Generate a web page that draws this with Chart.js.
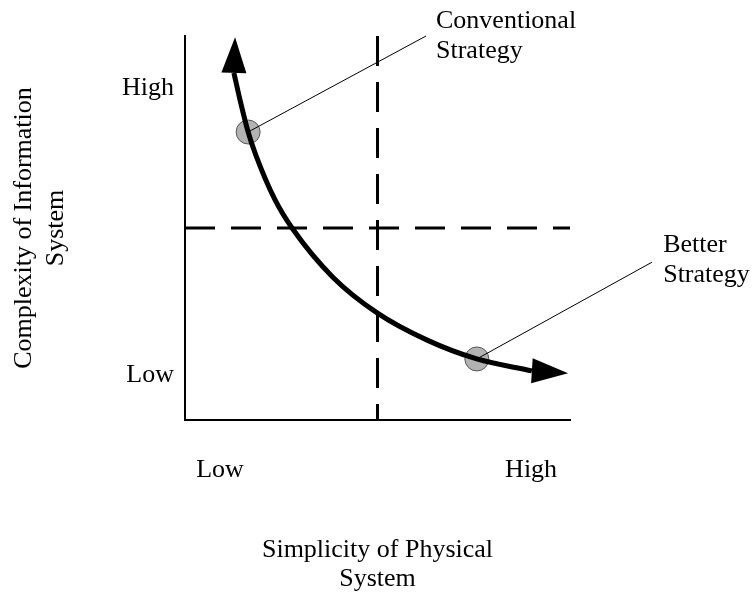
<!DOCTYPE html>
<html>
<head>
<meta charset="utf-8">
<script src="https://cdn.jsdelivr.net/npm/chart.js@4.4.1/dist/chart.umd.min.js"></script>
<style>
  body { margin: 0; background: #fff; }
  #wrap { width: 752px; height: 592px; }
</style>
</head>
<body>
<div id="wrap"><canvas id="chart" width="752" height="592"></canvas></div>
<script>
// strategy curve (0..10 on both axes)
const curveX = [1.27, 1.43, 1.64, 1.84, 2.34, 2.78, 3.84, 4.99, 6.29, 7.58, 9.01];
const curveY = [9.04, 8.33, 7.5, 6.9, 5.73, 5.0, 3.72, 2.79, 2.08, 1.59, 1.28];
const arrowTipX = [1.30, 9.95];
const arrowTipY = [9.97, 1.22];

// quadrant dividers
const splitX = 5;
const splitY = 5;

// marked strategies and their callouts
const strategyNames = [['Conventional', 'Strategy'], ['Better', 'Strategy']];
const strategyX = [1.64, 7.58];
const strategyY = [7.5, 1.59];
const calloutX = [6.26, 12.13];
const calloutY = [10.0, 4.11];
const labelX = [6.52, 12.42];
const labelY = [10.38, 4.55];

// tick labels
const xTickValues = [0.91, 8.99];
const xTickLabels = ['Low', 'High'];
const yTickValues = [1.17, 8.65];
const yTickLabels = ['Low', 'High'];

const FONT = "'Liberation Serif', 'Times New Roman', serif";
const SIZE = 26;

const curve = curveX.map((x, i) => ({ x: x, y: curveY[i] }));

const datasets = [
    {
        data: curve,
        showLine: true,
        borderColor: '#000',
        borderWidth: 5,
        borderCapStyle: 'butt',
        cubicInterpolationMode: 'monotone',
        pointRadius: 0,
        order: 0
    },
    {
        data: [{ x: splitX, y: 10 }, { x: splitX, y: 0 }],
        showLine: true,
        borderColor: '#000',
        borderWidth: 3,
        borderDash: [30, 16],
        pointRadius: 0,
        order: 2
    },
    {
        data: [{ x: 0, y: splitY }, { x: 10, y: splitY }],
        showLine: true,
        borderColor: '#000',
        borderWidth: 3,
        borderDash: [30, 16],
        pointRadius: 0,
        order: 2
    }
];

// callout lines, one per strategy
strategyX.forEach((x, i) => {
    datasets.push({
        data: [{ x: x, y: strategyY[i] }, { x: calloutX[i], y: calloutY[i] }],
        showLine: true,
        borderColor: '#000',
        borderWidth: 1,
        pointRadius: 0,
        clip: false,
        order: 1
    });
});

datasets.push({
    data: strategyX.map((x, i) => ({ x: x, y: strategyY[i] })),
    pointRadius: 12,
    pointBackgroundColor: '#b3b3b3',
    pointBorderColor: '#555',
    pointBorderWidth: 1,
    order: 3
});

// arrowheads at both ends of the curve
const arrowPlugin = {
    id: 'arrows',
    afterDatasetsDraw(chart) {
        const { ctx, scales: { x, y } } = chart;
        const bases = [curve[0], curve[curve.length - 1]];
        ctx.save();
        ctx.fillStyle = '#000';
        bases.forEach((b, i) => {
            const bx = x.getPixelForValue(b.x), by = y.getPixelForValue(b.y);
            const tx = x.getPixelForValue(arrowTipX[i]), ty = y.getPixelForValue(arrowTipY[i]);
            const len = Math.hypot(tx - bx, ty - by);
            const nx = -(ty - by) / len * 12.5, ny = (tx - bx) / len * 12.5;
            ctx.beginPath();
            ctx.moveTo(tx, ty);
            ctx.lineTo(bx + nx, by + ny);
            ctx.lineTo(bx - nx, by - ny);
            ctx.closePath();
            ctx.fill();
        });
        ctx.restore();
    }
};

// strategy names next to the callouts
const labelPlugin = {
    id: 'labels',
    afterDraw(chart) {
        const { ctx, scales: { x, y } } = chart;
        ctx.save();
        ctx.font = SIZE + 'px ' + FONT;
        ctx.fillStyle = '#000';
        ctx.textAlign = 'left';
        ctx.textBaseline = 'middle';
        strategyNames.forEach((lines, i) => {
            const px = x.getPixelForValue(labelX[i]);
            const py = y.getPixelForValue(labelY[i]);
            lines.forEach((t, j) => ctx.fillText(t, px, py + j * 30));
        });
        ctx.restore();
    }
};

new Chart(document.getElementById('chart'), {
    type: 'scatter',
    data: { datasets: datasets },
    options: {
        responsive: false,
        animation: false,
        layout: { padding: { top: 36, right: 182, left: 0, bottom: 0 } },
        plugins: {
            legend: { display: false },
            tooltip: { enabled: false }
        },
        scales: {
            x: {
                type: 'linear',
                min: 0,
                max: 10,
                afterFit: (s) => { s.height = 172; },
                afterBuildTicks: (s) => { s.ticks = xTickValues.map(v => ({ value: v })); },
                grid: { display: false, drawTicks: false },
                border: { display: true, color: '#000', width: 2 },
                ticks: {
                    padding: 35,
                    color: '#000',
                    maxRotation: 0,
                    font: { family: FONT, size: SIZE },
                    callback: (v) => xTickLabels[xTickValues.indexOf(v)]
                },
                title: {
                    display: true,
                    text: ['Simplicity of Physical', 'System'],
                    color: '#000',
                    font: { family: FONT, size: SIZE, lineHeight: 1.12 },
                    padding: { top: 0, bottom: -2 }
                }
            },
            y: {
                type: 'linear',
                min: 0,
                max: 10,
                afterFit: (s) => { s.width = 185; },
                afterBuildTicks: (s) => { s.ticks = yTickValues.map(v => ({ value: v })); },
                grid: { display: false, drawTicks: false },
                border: { display: true, color: '#000', width: 2 },
                ticks: {
                    padding: 11,
                    color: '#000',
                    font: { family: FONT, size: SIZE },
                    callback: (v) => yTickLabels[yTickValues.indexOf(v)]
                },
                title: {
                    display: true,
                    text: ['Complexity of Information', 'System'],
                    color: '#000',
                    font: { family: FONT, size: SIZE, lineHeight: 1.23 },
                    padding: { top: 8, bottom: 0 }
                }
            }
        }
    },
    plugins: [arrowPlugin, labelPlugin]
});
</script>
</body>
</html>
